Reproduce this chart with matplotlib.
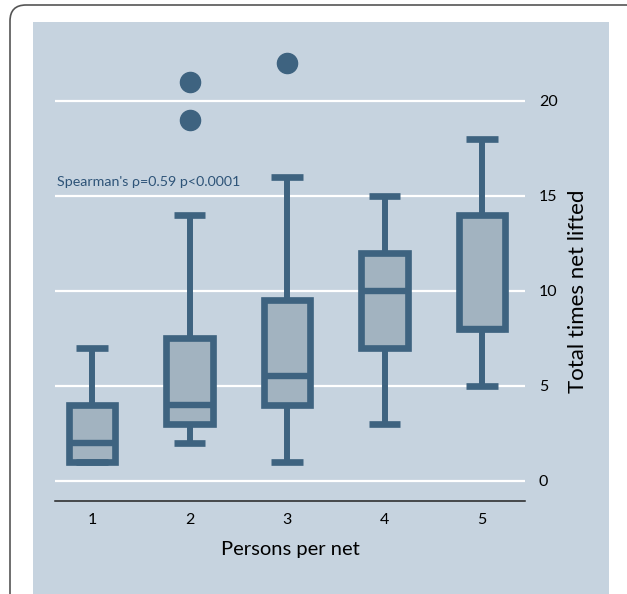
import matplotlib
matplotlib.use('Agg')
import matplotlib.pyplot as plt
from matplotlib.patches import Rectangle, FancyBboxPatch

# data
persons = [1, 2, 3, 4, 5]
q1 = [1, 3, 4, 7, 8]
median = [2, 4, 5.5, 10, 8]
q3 = [4, 7.5, 9.5, 12, 14]
whislo = [1, 2, 1, 3, 5]
whishi = [7, 14, 16, 15, 18]
outliers = [[], [19, 21], [22], [], []]
yticks = [0, 5, 10, 15, 20]
note = "Spearman's \u03c1=0.59 p<0.0001"

plt.rcParams['font.family'] = ['Lato', 'DejaVu Sans']

W, H = 627, 594
fig = plt.figure(figsize=(W / 100, H / 100), dpi=100)
fig.patch.set_facecolor('white')

# outer rounded frame and blue plot region (behind the axes)
frame = FancyBboxPatch((10, -40), 632, 629, boxstyle='round,pad=0,rounding_size=16',
                       transform=None, facecolor='white', edgecolor='#555555',
                       linewidth=1.2, zorder=-10)
fig.patches.append(frame)
fig.patches.append(Rectangle((33 / W, 0), (609 - 33) / W, (594 - 22) / H,
                             transform=fig.transFigure, facecolor='#c6d3df',
                             edgecolor='none', zorder=-9))

ax = fig.add_axes([55 / W, (H - 500.7) / H, (525 - 55) / W, (500.7 - 40) / H])
ax.patch.set_alpha(0)

edge = '#3e6380'
fill = '#a2b3c0'

stats = []
for i in range(len(persons)):
    stats.append(dict(med=median[i], q1=q1[i], q3=q3[i], whislo=whislo[i],
                      whishi=whishi[i], fliers=outliers[i]))

ax.bxp(stats, positions=persons, widths=0.48, capwidths=0.32, patch_artist=True,
       boxprops=dict(facecolor=fill, edgecolor=edge, linewidth=4.8, joinstyle='miter'),
       medianprops=dict(color=edge, linewidth=4.6, solid_capstyle='butt'),
       whiskerprops=dict(color=edge, linewidth=4.3, solid_capstyle='butt'),
       capprops=dict(color=edge, linewidth=4.8, solid_capstyle='butt'),
       flierprops=dict(marker='o', markersize=14.5, markerfacecolor=edge,
                       markeredgecolor=edge, linestyle='none'),
       zorder=3)

for y in yticks:
    ax.axhline(y, color='white', linewidth=1.6, zorder=1)

ax.set_xlim(0.62, 5.44)
ax.set_ylim(-1.05, 23.2)
ax.set_xticks(persons)
ax.set_xticklabels([str(p) for p in persons])
ax.set_yticks(yticks)
ax.yaxis.tick_right()
ax.yaxis.set_label_position('right')
ax.tick_params(axis='both', length=0, labelsize=11.5, colors='black')
ax.tick_params(axis='y', pad=10)
ax.tick_params(axis='x', pad=9)
for s in ['top', 'left', 'right']:
    ax.spines[s].set_visible(False)
ax.spines['bottom'].set_linewidth(1.1)
ax.spines['bottom'].set_color('#222222')

ax.set_xlabel('Persons per net', fontsize=14.5, labelpad=10)
ax.set_ylabel('Total times net lifted', fontsize=16, va='center')
ax.yaxis.set_label_coords(1.113, 0.455)

ax.text(0.64, 15.7, note, fontsize=10.3, color='#2e5478', va='center', ha='left')

fig.savefig('out.png', dpi=100)
